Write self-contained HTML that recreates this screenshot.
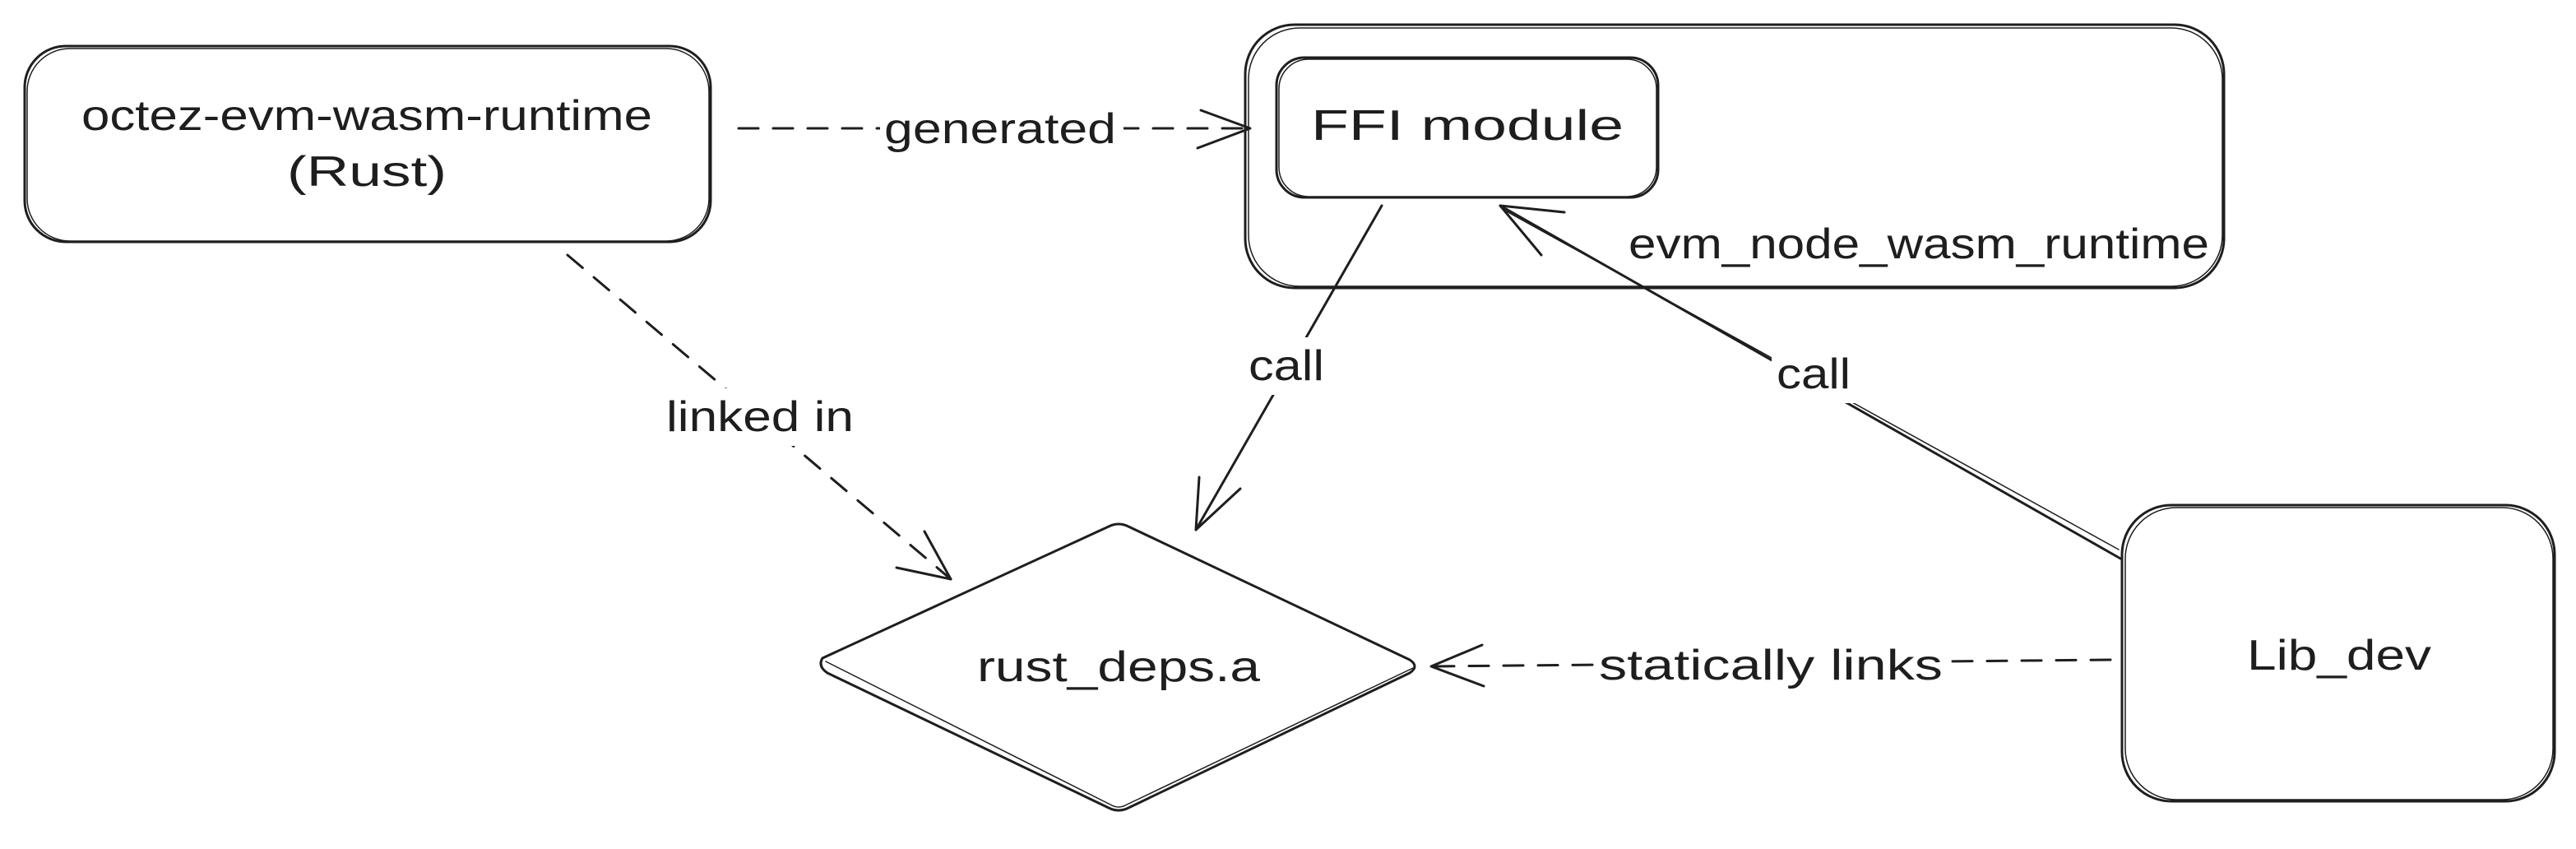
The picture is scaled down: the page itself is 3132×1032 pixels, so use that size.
<!DOCTYPE html>
<html><head><meta charset="utf-8"><style>
html,body{margin:0;padding:0;background:#fff;}
svg{display:block}
text{font-family:"Liberation Sans",sans-serif;font-size:52px;fill:#1e1e1e;}
</style></head><body>
<svg width="3132" height="1032" viewBox="0 0 3132 1032" xmlns="http://www.w3.org/2000/svg">
<g fill="none" stroke="#1e1e1e" stroke-width="3" stroke-linecap="round" stroke-linejoin="round">
  <rect x="30" y="56" width="834" height="238" rx="50"/>
  <rect x="33" y="59" width="829" height="234" rx="52" stroke-width="1.5"/>
  <rect x="1514" y="30" width="1190" height="320" rx="60"/>
  <rect x="1518" y="34" width="1184" height="314" rx="62" stroke-width="1.5"/>
  <rect x="1552" y="70" width="464" height="170" rx="34"/>
  <rect x="1555" y="72" width="459" height="167" rx="36" stroke-width="1.5"/>
  <path d="M1000 800 Q994 810 1006 818 L1348 982 Q1360 988 1372 982 L1714 818 Q1726 810 1714 802 L1372 640 Q1360 634 1348 640 Z"/>
  <path d="M1004 804 L1350 978 Q1360 984 1370 978 L1718 812" stroke-width="1.5"/>
  <rect x="2580" y="614" width="526" height="360" rx="60"/>
  <rect x="2584" y="617" width="520" height="355" rx="62" stroke-width="1.5"/>
  <path d="M898 156 L1520 156" stroke-dasharray="24 18"/>
  <path d="M1460 134 L1520 156 L1456 180"/>
  <path d="M690 310 L1156 704" stroke-dasharray="24 18"/>
  <path d="M1124 646 L1156 704 L1090 690"/>
  <path d="M1680 250 L1454 644"/>
  <path d="M1458 580 L1454 644 L1508 594"/>
  <path d="M2580 680 L1824 250"/>
  <path d="M2576 668 L1830 256" stroke-width="1.5"/>
  <path d="M1874 310 L1824 250 L1902 258"/>
  <path d="M2566 802 L1740 810" stroke-dasharray="24 18"/>
  <path d="M1802 784 L1740 810 L1804 834"/>
</g>
<g fill="#fff">
  <rect x="1070" y="120" width="296" height="70"/>
  <rect x="804" y="472" width="240" height="70"/>
  <rect x="1512" y="410" width="106" height="70"/>
  <rect x="2154" y="420" width="104" height="70"/>
  <rect x="1940" y="772" width="426" height="70"/>
</g>
<g text-anchor="middle">
  <text x="446" y="158" textLength="694" lengthAdjust="spacingAndGlyphs">octez-evm-wasm-runtime</text>
  <text x="446" y="226" textLength="194" lengthAdjust="spacingAndGlyphs">(Rust)</text>
  <text x="1784" y="170" textLength="380" lengthAdjust="spacingAndGlyphs">FFI module</text>
  <text x="2333" y="314" textLength="706" lengthAdjust="spacingAndGlyphs">evm_node_wasm_runtime</text>
  <text x="1360" y="828" textLength="344" lengthAdjust="spacingAndGlyphs">rust_deps.a</text>
  <text x="2844" y="814" textLength="224" lengthAdjust="spacingAndGlyphs">Lib_dev</text>
  <text x="1216" y="174" textLength="282" lengthAdjust="spacingAndGlyphs">generated</text>
  <text x="924" y="524" textLength="228" lengthAdjust="spacingAndGlyphs">linked in</text>
  <text x="1564" y="462" textLength="92" lengthAdjust="spacingAndGlyphs">call</text>
  <text x="2205" y="472" textLength="90" lengthAdjust="spacingAndGlyphs">call</text>
  <text x="2153" y="826" textLength="418" lengthAdjust="spacingAndGlyphs">statically links</text>
</g>
</svg>
</body></html>
